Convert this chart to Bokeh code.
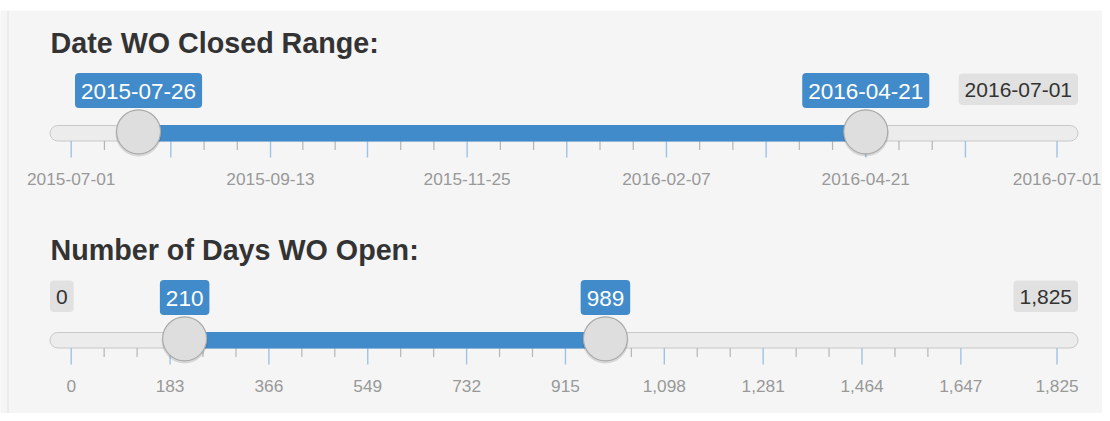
import pandas as pd
from bokeh.plotting import figure
from bokeh.models import Range1d, Rect
from bokeh.core.properties import value
from bokeh.embed import file_html
from bokeh.resources import INLINE

# ---------------- data ----------------
date_title = "Date WO Closed Range:"
date_min = "2015-07-01"
date_max = "2016-07-01"
date_from = "2015-07-26"
date_to = "2016-04-21"
date_major_ticks = ["2015-07-01", "2015-08-07", "2015-09-13", "2015-10-19", "2015-11-25",
                    "2016-01-01", "2016-02-07", "2016-03-15", "2016-04-21", "2016-05-28",
                    "2016-07-01"]
date_tick_labels = ["2015-07-01", "", "2015-09-13", "", "2015-11-25", "", "2016-02-07", "",
                    "2016-04-21", "", "2016-07-01"]

days_title = "Number of Days WO Open:"
days_min = 0
days_max = 1825
days_from = 210
days_to = 989
days_major_ticks = [0, 183, 366, 549, 732, 915, 1098, 1281, 1464, 1647, 1825]
days_tick_labels = ["0", "183", "366", "549", "732", "915", "1,098", "1,281", "1,464", "1,647", "1,825"]

# ---------------- layout / style ----------------
FONT = value("Liberation Sans")
BLUE = "#428bca"
WELL = "#f5f5f5"
W, H = 1102, 413
SY0 = 10                    # top of the grey well
TRACK_L, TRACK_R = 49.5, 1077.5
DATA_L, DATA_R = 70.7, 1056.5
RADIUS = {"border_radius": 4} if "border_radius" in Rect.properties() else {}

# approximate Arial advance widths (em) for box sizing
CW = {",": 0.278, "-": 0.333, ".": 0.278}


def text_w(s, size):
    return sum(CW.get(c, 0.556) for c in s) * size


def make_range(lo, hi):
    scale = (DATA_R - DATA_L) / (hi - lo)
    return Range1d(lo - DATA_L / scale, hi + (W - DATA_R) / scale)


d0 = pd.Timestamp(date_min)


def to_days(s):
    return [(pd.Timestamp(v) - d0).days for v in s]


date_lo, date_hi = to_days([date_min, date_max])

p = figure(width=W, height=H, output_backend="svg", toolbar_location=None,
           x_range=make_range(date_lo, date_hi), y_range=Range1d(H, SY0),
           x_axis_type=None, y_axis_type=None,
           min_border_left=0, min_border_right=0, min_border_top=SY0, min_border_bottom=0)
p.extra_x_ranges = {"days": make_range(days_min, days_max), "px": Range1d(0, W)}
p.background_fill_color = WELL
p.border_fill_color = "white"
p.outline_line_color = None
p.grid.visible = False

# left border of the well
p.segment(x0=[7.5], y0=[SY0], x1=[7.5], y1=[H], x_range_name="px",
          line_color="#e3e3e3", line_width=1)


def box(x, y, txt, rng, size, h, fill, color, anchor):
    w = text_w(txt, size) + 12
    if anchor == "left":
        x = x + w / 2
    elif anchor == "right":
        x = x - w / 2
    p.rect(x=[x], y=[y], width=[w], height=[h], width_units="screen", height_units="screen",
           x_range_name=rng, fill_color=fill, line_color=None, **RADIUS)
    p.text(x=[x], y=[y + 0.5], text=[txt], x_range_name=rng, text_font=FONT,
           text_font_size=f"{size}px", text_color=color, text_align="center",
           text_baseline="middle")


def slider(dy, rng, title, frm, to, majors, labels, show_min, min_txt, max_txt, frm_txt, to_txt):
    # title
    p.text(x=[50], y=[42 + dy], text=[title], x_range_name="px", text_font=FONT,
           text_font_size="28.7px", text_font_style="bold", text_color="#333333",
           text_align="left", text_baseline="middle")
    # track
    p.quad(left=[TRACK_L], right=[TRACK_R], top=[125 + dy], bottom=[140.5 + dy], x_range_name="px",
           fill_color="#ececec", line_color="#c8c8c8", line_width=1, border_radius=8)
    # ticks
    minors = []
    for a, b in zip(majors[:-2], majors[1:-1]):
        minors += [a + (b - a) / 3, a + 2 * (b - a) / 3]
    p.segment(x0=minors, y0=[140.5 + dy] * len(minors), x1=minors, y1=[149.5 + dy] * len(minors),
              x_range_name=rng, line_color="#b5b5b5", line_width=1.2)
    p.segment(x0=majors, y0=[140.5 + dy] * len(majors), x1=majors, y1=[157 + dy] * len(majors),
              x_range_name=rng, line_color="#9ec3e6", line_width=1.4)
    p.text(x=majors, y=[178 + dy] * len(majors), text=labels, x_range_name=rng, text_font=FONT,
           text_font_size="17.3px", text_color="#999999", text_align="center",
           text_baseline="middle")
    # selected bar
    p.quad(left=[frm], right=[to], top=[125 + dy], bottom=[140.5 + dy], x_range_name=rng,
           fill_color=BLUE, line_color=BLUE)
    # min / max boxes
    if show_min:
        box(TRACK_L, 88.8 + dy, min_txt, "px", 21, 31.5, "#e1e1e1", "#333333", "left")
    box(TRACK_R, 88.8 + dy, max_txt, "px", 21, 31.5, "#e1e1e1", "#333333", "right")
    # from / to boxes
    box(frm, 90 + dy, frm_txt, rng, 22.5, 35, BLUE, "white", "center")
    box(to, 90 + dy, to_txt, rng, 22.5, 35, BLUE, "white", "center")
    # handles
    p.scatter(x=[frm, to], y=[133 + dy] * 2, x_range_name=rng, size=46,
              fill_color="black", fill_alpha=0.12, line_color=None)
    p.scatter(x=[frm, to], y=[131.3 + dy] * 2, x_range_name=rng, size=44,
              fill_color="#dedede", line_color="#aaaaaa", line_width=1.2)


df, dt = to_days([date_from, date_to])
slider(0, "default", date_title, df, dt, to_days(date_major_ticks),
       date_tick_labels, False, date_min, date_max, date_from, date_to)
slider(207, "days", days_title, days_from, days_to, days_major_ticks,
       days_tick_labels, True, f"{days_min:,}", f"{days_max:,}", f"{days_from:,}", f"{days_to:,}")

open("out.html", "w").write(file_html(p, INLINE))
